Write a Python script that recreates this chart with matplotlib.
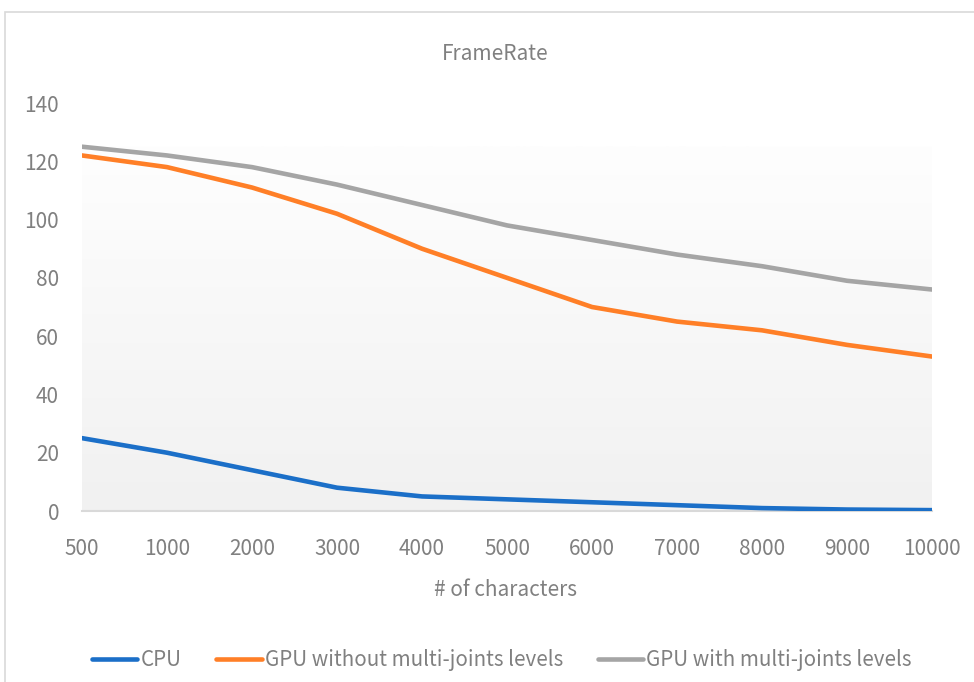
import numpy as np
import matplotlib
matplotlib.use("Agg")
import matplotlib.pyplot as plt
from matplotlib.patches import Rectangle
from matplotlib.colors import LinearSegmentedColormap

# --- data ---
characters = ["500", "1000", "2000", "3000", "4000", "5000",
              "6000", "7000", "8000", "9000", "10000"]
cpu = [25, 20, 14, 8, 5, 4, 3, 2, 1, 0.5, 0.3]
gpu_no_levels = [122, 118, 111, 102, 90, 80, 70, 65, 62, 57, 53]
gpu_levels = [125, 122, 118, 112, 105, 98, 93, 88, 84, 79, 76]

plt.rcParams["font.family"] = ["Noto Sans CJK KR", "DejaVu Sans"]
text_grey = "#808080"

W, H = 974, 682
fig = plt.figure(figsize=(W / 100, H / 100), dpi=100)

# chart frame (cut off on right/bottom like the screenshot)
fig.patches.append(Rectangle((5 / W, -0.1), 1.2, 1 - 12 / H + 0.1,
                             transform=fig.transFigure, fill=False,
                             edgecolor="#D9D9D9", linewidth=1.2))

ax = fig.add_axes([82 / W, 1 - 511 / H, (932 - 82) / W, (511 - 103) / H])
x = np.arange(len(characters))

# gradient backdrop: white at top, light grey at bottom
cmap = LinearSegmentedColormap.from_list("bg", ["#F1F1F1", "#FEFEFE"])
grad = np.linspace(0, 1, 256).reshape(-1, 1)
ax.imshow(grad, cmap=cmap, origin="lower", aspect="auto",
          extent=(x[0], x[-1], 0, max(gpu_levels)), zorder=0)

lw = 3.3
ax.plot(x, cpu, color="#1B6FC8", lw=lw, solid_capstyle="round",
        solid_joinstyle="round", label="CPU", zorder=3)
ax.plot(x, gpu_no_levels, color="#FF7F27", lw=lw, solid_capstyle="round",
        solid_joinstyle="round", label="GPU without multi-joints levels", zorder=3)
ax.plot(x, gpu_levels, color="#A5A5A5", lw=lw, solid_capstyle="round",
        solid_joinstyle="round", label="GPU with multi-joints levels", zorder=3)

ax.set_xlim(x[0], x[-1])
ax.set_ylim(0, 140)
ax.set_yticks(np.arange(0, 141, 20))
ax.set_xticks(x)
ax.set_xticklabels(characters)
ax.tick_params(axis="both", length=0, labelsize=15, labelcolor=text_grey)
ax.tick_params(axis="y", pad=16.5)
ax.tick_params(axis="x", pad=19.5)

for side in ("top", "right", "left"):
    ax.spines[side].set_visible(False)
ax.spines["bottom"].set_color("#D9D9D9")
ax.spines["bottom"].set_linewidth(1.5)
ax.set_facecolor("white")

fig.text(495 / W, 1 - 54 / H, "FrameRate", ha="center", va="center",
         fontsize=15, color=text_grey)
fig.text(506 / W, 1 - 590 / H, "# of characters", ha="center", va="center",
         fontsize=15, color=text_grey)

leg = fig.legend(loc="center", bbox_to_anchor=(502 / W, 1 - 660 / H), ncol=3,
                 frameon=False, fontsize=14.8, handlelength=2.2,
                 handletextpad=0.15, columnspacing=1.7, labelcolor=text_grey)

fig.savefig("out.png", dpi=100, facecolor="white")
